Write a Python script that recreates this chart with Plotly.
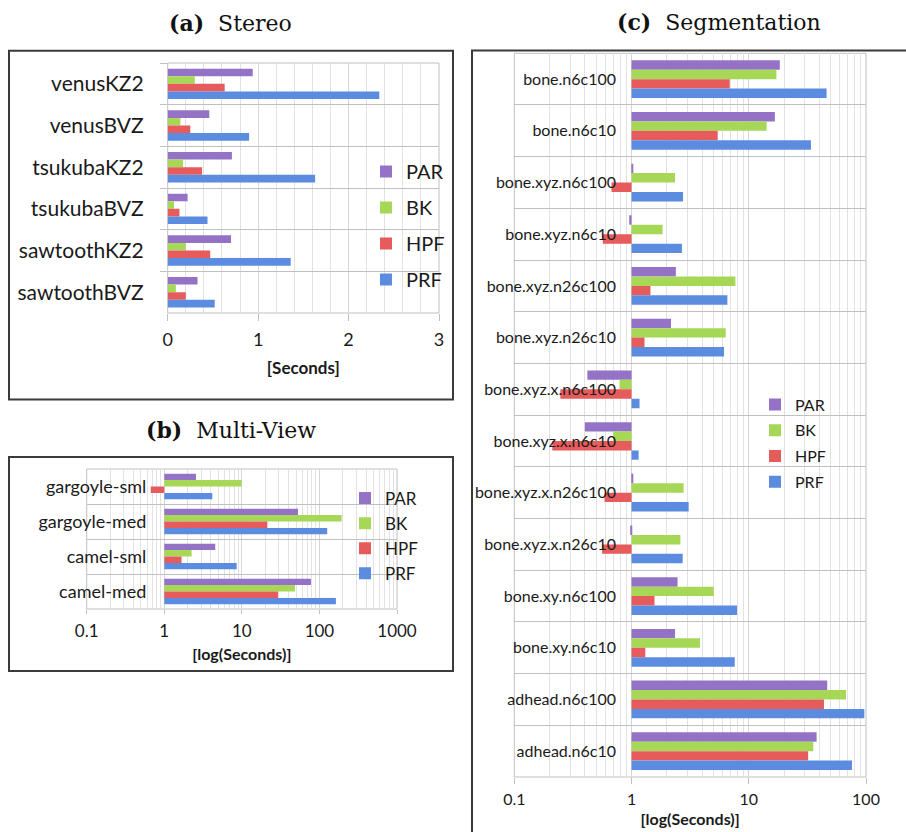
import plotly.graph_objects as go

# ---------------- data ----------------
series = ["PAR", "BK", "HPF", "PRF"]
colors = {"PAR": "#9473C7", "BK": "#A7D757", "HPF": "#E65B5B", "PRF": "#5B8CE0"}

stereo_cats = ["venusKZ2", "venusBVZ", "tsukubaKZ2", "tsukubaBVZ", "sawtoothKZ2", "sawtoothBVZ"]
stereo_PAR = [0.94, 0.46, 0.71, 0.22, 0.70, 0.33]
stereo_BK = [0.30, 0.14, 0.17, 0.07, 0.20, 0.09]
stereo_HPF = [0.63, 0.25, 0.38, 0.13, 0.47, 0.20]
stereo_PRF = [2.34, 0.90, 1.63, 0.44, 1.36, 0.52]

mv_cats = ["gargoyle-sml", "gargoyle-med", "camel-sml", "camel-med"]
mv_PAR = [2.56, 52.9, 4.54, 77.8]
mv_BK = [9.9, 193, 2.25, 48.4]
mv_HPF = [0.67, 21.3, 1.67, 29.2]
mv_PRF = [4.16, 126, 8.57, 163]

seg_cats = ["bone.n6c100", "bone.n6c10", "bone.xyz.n6c100", "bone.xyz.n6c10",
            "bone.xyz.n26c100", "bone.xyz.n26c10", "bone.xyz.x.n6c100", "bone.xyz.x.n6c10",
            "bone.xyz.x.n26c100", "bone.xyz.x.n26c10", "bone.xy.n6c100", "bone.xy.n6c10",
            "adhead.n6c100", "adhead.n6c10"]
seg_PAR = [18.4, 16.7, 1.03, 0.955, 2.39, 2.17, 0.42, 0.40, 1.03, 0.974, 2.47, 2.35, 46.7, 37.9]
seg_BK = [17.2, 14.2, 2.35, 1.84, 7.69, 6.36, 0.79, 0.70, 2.78, 2.61, 5.02, 3.84, 67.5, 35.5]
seg_HPF = [6.88, 5.43, 0.675, 0.569, 1.45, 1.29, 0.247, 0.211, 0.588, 0.561, 1.57, 1.31, 43.8, 32.1]
seg_PRF = [46.1, 33.9, 2.75, 2.69, 6.57, 6.15, 1.17, 1.15, 3.07, 2.73, 7.94, 7.59, 96.8, 75.9]

log_b_ticks = [0.1, 1, 10, 100, 1000]
log_c_ticks = [0.1, 1, 10, 100]

# ---------------- layout helpers ----------------
W, H = 906, 832
def px(x):
    return x / W
def py(y):
    return 1 - y / H

SANS = "Lato, 'Open Sans', sans-serif"
SERIF = "'DejaVu Serif', serif"
TXT = "#1a1a1a"
GRID = "#d6d6d6"
MINOR = "#e2e2e2"
BOUND = "#c0c0c0"

fig = go.Figure()

panels = [
    ("x", "y", "legend", stereo_cats,
     {"PAR": stereo_PAR, "BK": stereo_BK, "HPF": stereo_HPF, "PRF": stereo_PRF}, False),
    ("x2", "y2", "legend2", mv_cats,
     {"PAR": mv_PAR, "BK": mv_BK, "HPF": mv_HPF, "PRF": mv_PRF}, True),
    ("x3", "y3", "legend3", seg_cats,
     {"PAR": seg_PAR, "BK": seg_BK, "HPF": seg_HPF, "PRF": seg_PRF}, True),
]

for xa, ya, lg, cats, vals, is_log in panels:
    for rank, s in enumerate(series):
        v = vals[s]
        if is_log:
            xs = [val - 1 for val in v]
            base = 1
        else:
            xs = v
            base = 0
        fig.add_trace(go.Bar(
            y=cats, x=xs, base=base, customdata=v, orientation="h",
            name=s, xaxis=xa, yaxis=ya, legend=lg,
            legendgroup=lg + s, legendrank=rank + 1,
            marker=dict(color=colors[s], line=dict(width=0)),
            hovertemplate="%{y}<br>" + s + ": %{customdata}<extra></extra>",
        ))

minor_log = [m * 10 ** e for e in (-1, 0, 1, 2) for m in range(2, 10)]

fig.update_layout(
    width=W, height=H,
    margin=dict(l=0, r=0, t=0, b=0, pad=0, autoexpand=False),
    paper_bgcolor="white", plot_bgcolor="white",
    barmode="group", bargap=0.27, bargroupgap=0,
    showlegend=True,
    # ---- (a) Stereo ----
    xaxis=dict(domain=[px(167.7), px(439)], anchor="y", range=[0, 3], dtick=1,
               automargin=False,
               showgrid=True, gridcolor=GRID, zeroline=False,
               minor=dict(dtick=0.2, showgrid=True, gridcolor=MINOR, ticks=""),
               ticks="outside", ticklen=7, tickcolor=BOUND, ticklabelstandoff=3,
               tickfont=dict(family=SANS, size=18, color=TXT),
               title=dict(text="<b>[Seconds]</b>", standoff=13,
                          font=dict(family=SANS, size=17, color=TXT))),
    yaxis=dict(domain=[py(313), py(63)], anchor="x", type="category", automargin=False,
               categoryorder="array", categoryarray=stereo_cats, autorange="reversed",
               tickson="boundaries", showgrid=True, gridcolor=BOUND,
               ticks="outside", ticklen=7, tickcolor=BOUND, ticklabelstandoff=23,
               tickfont=dict(family=SANS, size=21, color=TXT)),
    # ---- (b) Multi-View ----
    xaxis2=dict(domain=[px(86.7), px(397)], anchor="y2", type="log", range=[-1, 3],
                automargin=False,
                tickvals=log_b_ticks, ticktext=[str(t) for t in log_b_ticks],
                showgrid=True, gridcolor=GRID, zeroline=False,
                minor=dict(tickvals=minor_log, showgrid=True, gridcolor=MINOR, ticks=""),
                ticks="outside", ticklen=4, tickcolor=BOUND, ticklabelstandoff=3,
                tickfont=dict(family=SANS, size=17, color=TXT),
                title=dict(text="<b>[log(Seconds)]</b>", standoff=8,
                           font=dict(family=SANS, size=16, color=TXT))),
    yaxis2=dict(domain=[py(609), py(469)], anchor="free", position=px(164.3),
                automargin=False,
                type="category", categoryorder="array", categoryarray=mv_cats,
                autorange="reversed", tickson="boundaries", showgrid=True,
                gridcolor=BOUND, ticks="", ticklabelstandoff=18,
                tickfont=dict(family=SANS, size=18, color=TXT)),
    # ---- (c) Segmentation ----
    xaxis3=dict(domain=[px(514.3), px(866)], anchor="y3", type="log", range=[-1, 2],
                automargin=False,
                tickvals=log_c_ticks, ticktext=[str(t) for t in log_c_ticks],
                showgrid=True, gridcolor=GRID, zeroline=False,
                minor=dict(tickvals=minor_log, showgrid=True, gridcolor=MINOR, ticks=""),
                ticks="outside", ticklen=6, tickcolor=BOUND, ticklabelstandoff=2,
                tickfont=dict(family=SANS, size=16, color=TXT),
                title=dict(text="<b>[log(Seconds)]</b>", standoff=6,
                           font=dict(family=SANS, size=16, color=TXT))),
    yaxis3=dict(domain=[py(777), py(53.3)], anchor="free", position=px(632),
                automargin=False,
                type="category", categoryorder="array", categoryarray=seg_cats,
                autorange="reversed", tickson="boundaries", showgrid=True,
                gridcolor=BOUND, ticks="", ticklabelstandoff=16,
                tickfont=dict(family=SANS, size=16, color=TXT)),
    legend=dict(x=px(366), y=py(225.5), xanchor="left", yanchor="middle",
                bgcolor="rgba(0,0,0,0)", tracegroupgap=7,
                font=dict(family=SANS, size=20, color=TXT)),
    legend2=dict(x=px(345), y=py(536), xanchor="left", yanchor="middle",
                 bgcolor="rgba(0,0,0,0)", tracegroupgap=0,
                 font=dict(family=SANS, size=17, color=TXT)),
    legend3=dict(x=px(755), y=py(443.5), xanchor="left", yanchor="middle",
                 bgcolor="rgba(0,0,0,0)", tracegroupgap=2,
                 font=dict(family=SANS, size=16, color=TXT)),
)

# outer boxes of the three panels
for x0, y0, x1, y1 in [(9, 50.7, 453, 399.5), (9, 457, 453, 671), (472, 50.5, 920, 845)]:
    fig.add_shape(type="rect", xref="paper", yref="paper",
                  x0=px(x0), x1=px(x1), y0=py(y1), y1=py(y0),
                  line=dict(color="#3a3a3a", width=2), layer="above")

# plot-area frames
for xa, ya in [("x", "y"), ("x2", "y2"), ("x3", "y3")]:
    fig.add_shape(type="rect", xref=xa + " domain", yref=ya + " domain",
                  x0=0, x1=1, y0=0, y1=1, line=dict(color=BOUND, width=1), layer="below")

# panel titles
for text, x, y in [("<b>(a)</b>  Stereo", 230, 23), ("<b>(b)</b>  Multi-View", 231, 430),
                   ("<b>(c)</b>  Segmentation", 719, 22)]:
    fig.add_annotation(text=text, x=px(x), y=py(y), xref="paper", yref="paper",
                       xanchor="center", yanchor="middle", showarrow=False,
                       font=dict(family=SERIF, size=22, color="#111"))

fig.write_html("out.html",
               config={"displayModeBar": False},
               post_script="document.body.style.margin='0';"
                           "document.body.style.overflow='hidden';")
